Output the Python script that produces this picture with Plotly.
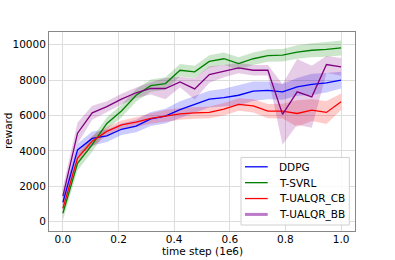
import plotly.graph_objects as go

# time step (1e6)
steps = [0.0, 0.0526, 0.1053, 0.1579, 0.2105, 0.2632, 0.3158, 0.3684, 0.4211, 0.4737,
         0.5263, 0.5789, 0.6316, 0.6842, 0.7368, 0.7895, 0.8421, 0.8947, 0.9474, 1.0]

ddpg_mean = [1100, 4050, 4700, 4850, 5220, 5400, 5800, 5960, 6330, 6620,
             6920, 7010, 7140, 7370, 7420, 7330, 7610, 7750, 7840, 7990]
ddpg_std = [300, 350, 400, 350, 330, 350, 400, 420, 470, 470,
            470, 500, 560, 550, 500, 450, 500, 600, 550, 470]

tsvrl_mean = [480, 3300, 4350, 5550, 6250, 7140, 7680, 7800, 8550, 8460,
              9050, 9200, 8930, 9200, 9380, 9400, 9580, 9680, 9730, 9810]
tsvrl_std = [400, 400, 400, 350, 350, 350, 350, 350, 350, 350,
             350, 350, 350, 350, 350, 350, 380, 400, 420, 420]

cb_mean = [750, 3600, 4550, 5100, 5470, 5620, 5830, 5980, 6090, 6140,
           6170, 6350, 6620, 6540, 6240, 6240, 6110, 6300, 6170, 6770]
cb_std = [300, 300, 300, 250, 250, 280, 300, 320, 330, 330,
          330, 350, 350, 380, 400, 420, 750, 620, 650, 470]

bb_mean = [1450, 5000, 6150, 6500, 6920, 7280, 7530, 7520, 7890, 7500,
           8310, 8500, 8680, 8550, 8550, 6060, 7330, 7050, 8870, 8740]
bb_std = [500, 600, 400, 300, 300, 300, 350, 600, 300, 600,
          470, 350, 300, 300, 300, 1720, 1850, 1750, 480, 500]

series_names = ["DDPG", "T-SVRL", "T-UALQR_CB", "T-UALQR_BB"]
series = [
    (series_names[0], ddpg_mean, ddpg_std, "#0000ff", "rgba(0,0,255,0.2)"),
    (series_names[1], tsvrl_mean, tsvrl_std, "#008000", "rgba(0,128,0,0.2)"),
    (series_names[2], cb_mean, cb_std, "#ff0000", "rgba(255,0,0,0.2)"),
    (series_names[3], bb_mean, bb_std, "#800080", "rgba(128,0,128,0.2)"),
]

x_ticks = [0.0, 0.2, 0.4, 0.6, 0.8, 1.0]
x_ticktext = ["0.0", "0.2", "0.4", "0.6", "0.8", "1.0"]
y_ticks = [0, 2000, 4000, 6000, 8000, 10000]
y_ticktext = ["0", "2000", "4000", "6000", "8000", "10000"]

fig = go.Figure()
for name, m, s, col, fill in series:
    lo = [a - b for a, b in zip(m, s)]
    hi = [a + b for a, b in zip(m, s)]
    fig.add_trace(go.Scatter(x=steps, y=lo, mode="lines", line=dict(width=0),
                             showlegend=False, hoverinfo="skip"))
    fig.add_trace(go.Scatter(x=steps, y=hi, mode="lines", line=dict(width=0),
                             fill="tonexty", fillcolor=fill, showlegend=False,
                             hoverinfo="skip"))
for name, m, s, col, fill in series:
    fig.add_trace(go.Scatter(x=steps, y=m, mode="lines", name=name,
                             line=dict(color=col, width=1.3), showlegend=False))

axis_common = dict(showgrid=True, gridcolor="#dddddd", gridwidth=1,
                   showline=True, linecolor="#888888", linewidth=1, mirror=True,
                   zeroline=False, ticks="",
                   tickfont=dict(family="DejaVu Sans", size=10.5, color="black"))
fig.update_xaxes(range=[-0.05, 1.05], tickvals=x_ticks, ticktext=x_ticktext,
                 ticklabelstandoff=-2, **axis_common)
fig.update_yaxes(range=[-524, 10710], tickvals=y_ticks, ticktext=y_ticktext, **axis_common)

# plot area in pixels (for placing the legend box)
L, R, T, B = 49, 355, 31.7, 231
W, H = R - L, B - T
def px(xp):
    return (xp - L) / W
def py(yp):
    return (B - yp) / H

shapes = [dict(type="rect", xref="paper", yref="paper",
               x0=px(241), x1=px(349.3), y0=py(225), y1=py(157.3),
               line=dict(color="#d0d0d0", width=1), fillcolor="rgba(255,255,255,0.85)",
               layer="above")]
annotations = []
for i, (name, m, s, col, fill) in enumerate(series):
    yc = 166.7 + 15.9 * i
    if name == "T-UALQR_BB":
        lc, lw = "rgba(175,100,190,0.85)", 3
    else:
        lc, lw = col, 1.3
    shapes.append(dict(type="line", xref="paper", yref="paper",
                       x0=px(245), x1=px(267.7), y0=py(yc), y1=py(yc),
                       line=dict(color=lc, width=lw), layer="above"))
    annotations.append(dict(text=name, xref="paper", yref="paper", x=px(276.7), y=py(yc),
                            xanchor="left", yanchor="middle", showarrow=False,
                            font=dict(family="DejaVu Sans", size=10.5, color="black")))

annotations += [
    dict(text="time step (1e6)", xref="paper", yref="paper", x=0.5, y=py(251.5),
         xanchor="center", yanchor="middle", showarrow=False,
         font=dict(family="DejaVu Sans", size=10.5)),
    dict(text="reward", xref="paper", yref="paper", x=px(7.5), y=0.5,
         xanchor="center", yanchor="middle", textangle=-90, showarrow=False,
         font=dict(family="DejaVu Sans", size=10.5)),
]

fig.update_layout(
    width=395, height=260,
    margin=dict(l=49, r=40, t=32, b=29),
    plot_bgcolor="white", paper_bgcolor="white",
    font=dict(family="DejaVu Sans", size=10.5, color="black"),
    showlegend=False,
    shapes=shapes,
    annotations=annotations,
)

fig.write_html("out.html", config={"displayModeBar": False},
               post_script="document.body.style.margin='0px';document.body.style.overflow='hidden';")
